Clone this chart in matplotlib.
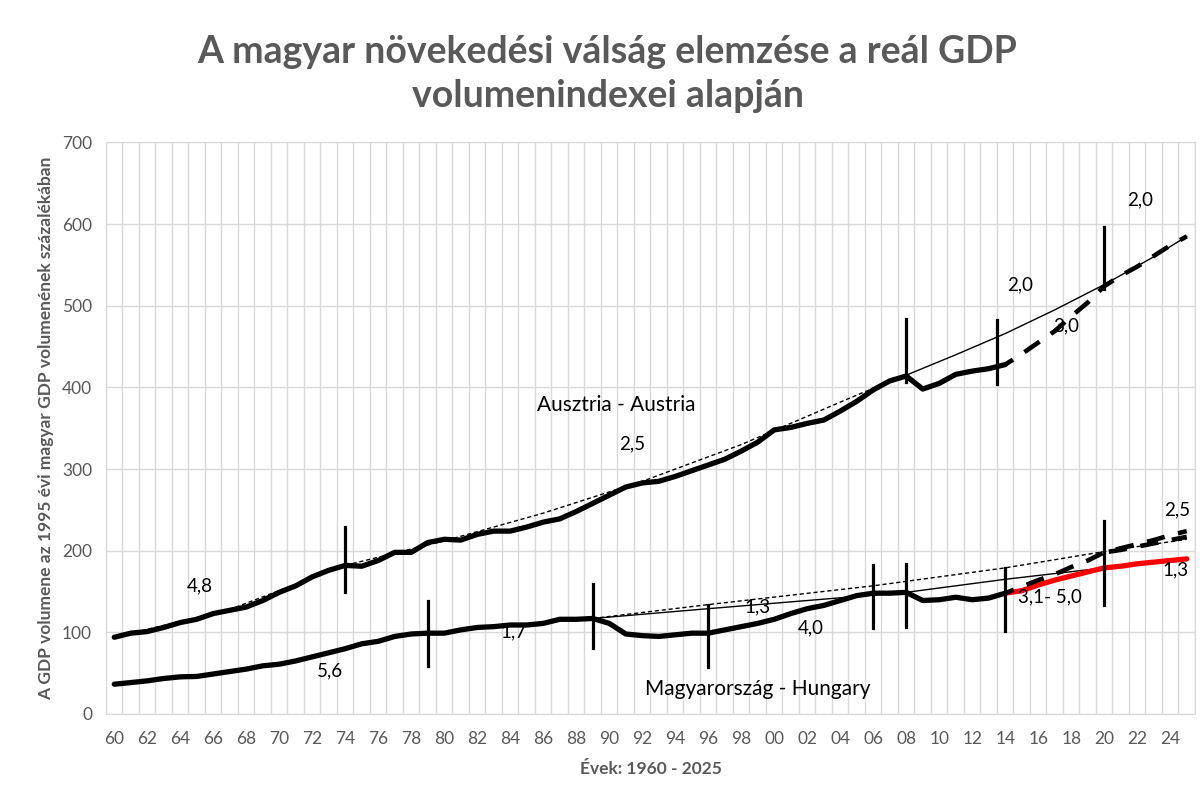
import numpy as np
import matplotlib
matplotlib.use('Agg')
import matplotlib.pyplot as plt

plt.rcParams['font.family'] = ['Lato', 'DejaVu Sans']

# Ausztria - tényleges adatok 1960-2014
aut_years = list(range(1960, 2015))
aut_vals = [94, 99, 101, 106, 112, 116, 123, 127, 131, 139,
            149, 157, 168, 176, 182, 181, 188, 198, 198, 210,
            214, 213, 220, 224, 224, 229, 235, 239, 248, 258,
            268, 278, 283, 285, 291, 298, 305, 312, 322, 333,
            348, 351, 356, 360, 371, 383, 397, 408, 414, 398,
            405, 416, 420, 423, 428]

# Ausztria - előrejelzés 2014-2025
aut_fc_years = list(range(2014, 2026))
aut_fc_vals = [428, 441, 455, 469, 487, 504, 524, 537, 548, 561, 574, 585]

# Ausztria - trendvonalak
aut_trend1_years = [1960, 1967, 1974, 1980, 1986, 1992, 1998, 2004, 2008]
aut_trend1_vals = [94, 128, 182, 212, 246, 285, 330, 382, 416]
aut_trend2_years = [2008, 2011, 2014, 2017, 2020, 2023, 2025]
aut_trend2_vals = [415, 440, 466, 495, 526, 560, 585]

# Magyarország - tényleges adatok 1960-2014
hun_years = list(range(1960, 2015))
hun_vals = [36.5, 38.5, 40.6, 43.5, 45.5, 46, 49, 52, 55, 59,
            61, 65, 70, 75, 80, 86, 89, 95, 98, 99,
            99, 103, 106, 107, 109, 109, 111, 116, 116, 117,
            111, 98, 96, 95, 97, 99, 99, 103, 107, 111,
            116, 123, 129, 133, 139, 145, 148, 148, 149, 139,
            140, 143, 140, 142, 148]

# Magyarország - előrejelzések 2014-2025
hun_red_years = list(range(2014, 2026))
hun_red_vals = [148, 151, 158, 164, 169, 174, 179, 181, 184, 186, 188, 190]
hun_hi_years = list(range(2014, 2026))
hun_hi_vals = [148, 156, 164, 171, 180, 188, 198, 203, 208, 213, 219, 224]
hun_hi2_years = list(range(2020, 2026))
hun_hi2_vals = [198, 201, 205, 209, 213, 217]

# Magyarország - trendvonalak
hun_dot_years = [1989, 1996, 2006, 2014, 2020, 2025]
hun_dot_vals = [117, 134, 157, 179, 199, 214]
hun_thin_years = [1989, 1996, 2008, 2014, 2020]
hun_thin_vals = [117, 129, 149, 165, 179]

# Korszakhatárok: (év, alsó, felső)
markers = [(1974, 150, 229), (2008, 407, 484), (2013.5, 404, 482), (2020, 520, 597),
           (1979, 59, 138), (1989, 81, 159), (1996, 58, 134), (2006, 105, 183),
           (2008, 106, 184), (2014, 102, 179), (2020, 134, 237)]

year_ticks = list(range(1960, 2025, 2))
tick_labels = ['{:02d}'.format(y % 100) for y in year_ticks]

grey = '#595959'

fig = plt.figure(figsize=(12.03, 7.94), dpi=100)
ax = fig.add_axes([106 / 1203, 1 - 714 / 794, (1195 - 106) / 1203, (714 - 142.5) / 794])

# Grid: category boundaries and every 100
for x in np.arange(1959.5, 2026, 1.0):
    ax.axvline(x, color='#d9d9d9', lw=1.0, zorder=0)
for y in range(0, 701, 100):
    ax.axhline(y, color='#d9d9d9', lw=1.0, zorder=0)

# Trend lines
ax.plot(aut_trend1_years, aut_trend1_vals, color='black', lw=1.0, ls=(0, (3, 2)), zorder=2)
ax.plot(aut_trend2_years, aut_trend2_vals, color='black', lw=1.0, zorder=2)
ax.plot(hun_dot_years, hun_dot_vals, color='black', lw=1.0, ls=(0, (3, 2)), zorder=2)
ax.plot(hun_thin_years, hun_thin_vals, color='black', lw=1.0, zorder=2)

# Main series
ax.plot(aut_years, aut_vals, color='black', lw=3.8, solid_capstyle='round', zorder=4)
ax.plot(hun_years, hun_vals, color='black', lw=3.8, solid_capstyle='round', zorder=4)
ax.plot(aut_fc_years, aut_fc_vals, color='black', lw=3.3, ls=(2, (4, 3)), zorder=3)
ax.plot(hun_red_years, hun_red_vals, color='#ff0000', lw=3.8, solid_capstyle='round', zorder=3)
ax.plot(hun_hi_years, hun_hi_vals, color='black', lw=3.3, ls=(2, (4, 3)), zorder=3)
ax.plot(hun_hi2_years, hun_hi2_vals, color='black', lw=3.3, ls=(6, (4, 3)), zorder=3)

for yr, lo, hi in markers:
    ax.plot([yr, yr], [lo, hi], color='black', lw=2.3, zorder=5)

# Annotations
txt = dict(color='black', ha='center', va='center', fontsize=13.5)
ax.text(1965.2, 157, '4,8', **txt)
ax.text(1973.1, 53, '5,6', **txt)
ax.text(1984.2, 100, '1,7', **txt)
ax.text(1991.4, 331, '2,5', **txt)
ax.text(1999.0, 131, '1,3', **txt)
ax.text(2002.2, 105, '4,0', **txt)
ax.text(2016.7, 143, '3,1- 5,0', **txt)
ax.text(2024.3, 176, '1,3', **txt)
ax.text(2024.4, 250, '2,5', **txt)
ax.text(2014.9, 526, '2,0', **txt)
ax.text(2017.7, 475, '3,0', **txt)
ax.text(2022.2, 630, '2,0', **txt)
ax.text(1990.4, 379, 'Ausztria - Austria', color='black', ha='center', va='center', fontsize=15)
ax.text(1999.0, 30.5, 'Magyarország - Hungary', color='black', ha='center', va='center', fontsize=15)

ax.set_xlim(1959.5, 2025.5)
ax.set_ylim(0, 700)
ax.set_xticks(year_ticks)
ax.set_xticklabels(tick_labels)
ax.set_yticks(range(0, 701, 100))
ax.tick_params(axis='both', length=0, colors=grey, labelsize=12.5)
ax.tick_params(axis='x', pad=12)
ax.tick_params(axis='y', pad=10)
for s in ax.spines.values():
    s.set_color('#d9d9d9')

ax.set_xlabel('Évek: 1960 - 2025', color=grey, fontsize=12.5, fontweight='bold', labelpad=10)
ax.set_ylabel('A GDP volumene az 1995 évi magyar GDP volumenének százalékában',
              color=grey, fontsize=12.5, fontweight='bold', labelpad=6)

fig.text(0.505, 0.907, 'A magyar növekedési válság elemzése a reál GDP\nvolumenindexei alapján',
         ha='center', va='center', fontsize=27, fontweight='bold', color=grey, linespacing=1.35)

fig.savefig('out.png', dpi=100)
